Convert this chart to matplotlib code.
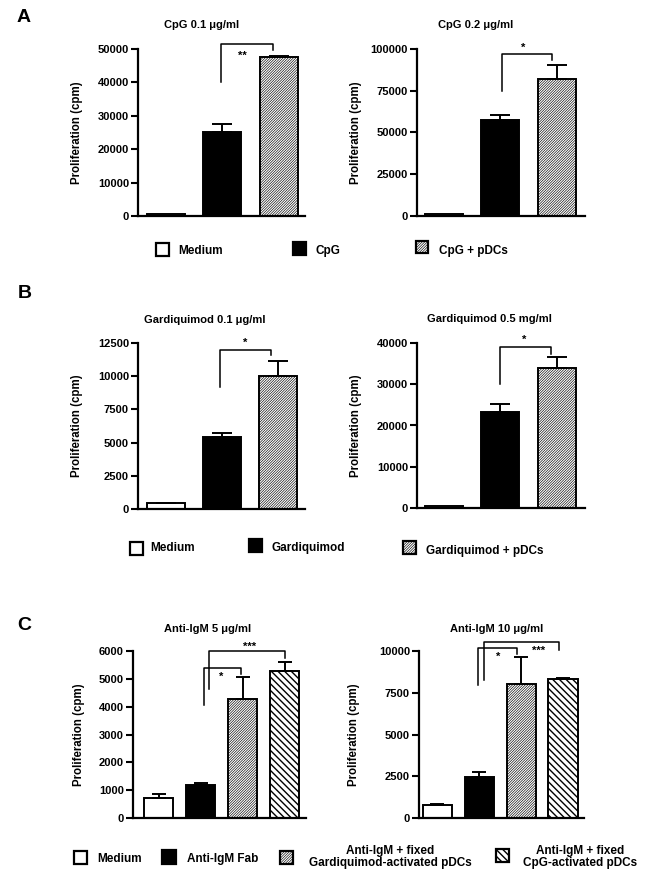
#!/usr/bin/env python3
"""Proliferation bar panels (A: CpG, B: Gardiquimod, C: anti-IgM)."""
import numpy as np
import matplotlib
matplotlib.use("Agg")
import matplotlib.pyplot as plt
from matplotlib.patches import Rectangle

plt.rcParams["font.family"] = ["Liberation Sans", "DejaVu Sans"]
plt.rcParams["font.weight"] = "bold"
plt.rcParams["axes.labelweight"] = "bold"

W, H = 648, 880

# --- data (cpm, mean and SEM) ---
cpg01_mean = [700, 25000, 47700]
cpg01_err = [0, 2400, 300]
cpg02_mean = [1000, 57500, 82000]
cpg02_err = [0, 3000, 8500]
gq01_mean = [420, 5400, 10050]
gq01_err = [60, 330, 1100]
gq05_mean = [600, 23200, 34000]
gq05_err = [0, 2100, 2500]
igm5_mean = [730, 1170, 4270, 5280]
igm5_err = [130, 80, 800, 320]
igm10_mean = [760, 2450, 8000, 8320]
igm10_err = [60, 330, 1650, 80]

legend_a = ["Medium", "CpG", "CpG + pDCs"]
legend_b = ["Medium", "Gardiquimod", "Gardiquimod + pDCs"]
legend_c = ["Medium", "Anti-IgM Fab", "Anti-IgM + fixed\nGardiquimod-activated pDCs",
            "Anti-IgM + fixed\nCpG-activated pDCs"]

# fill styles: (facecolor, hatch, hatch linewidth)
WHITE = ("white", None, 0)
BLACK = ("black", None, 0)
DENSE = ("white", "/" * 13, 0.45)
COARSE = ("white", "\\" * 5, 1.0)

fig = plt.figure(figsize=(W / 100, H / 100), dpi=100)


def px_axes(x0, x1, ytop, ybot):
    return fig.add_axes([x0 / W, 1 - ybot / H, (x1 - x0) / W, (ybot - ytop) / H])


def panel(ax, means, errs, styles, ymax, step, xlim, width, cap, ylab_x):
    x = np.arange(len(means))
    for xi, m, (fc, hatch, hlw) in zip(x, means, styles):
        if hatch:
            plt.rcParams["hatch.linewidth"] = hlw
        b = ax.bar(xi, m, width=width, color=fc, edgecolor="black", linewidth=1.4,
                   hatch=hatch, zorder=2)
        if hatch and hasattr(b[0], "set_hatch_linewidth"):
            b[0].set_hatch_linewidth(hlw)
    errs = np.asarray(errs, dtype=float)
    keep = errs > 0
    ax.errorbar(x[keep], np.asarray(means)[keep], yerr=[np.zeros(keep.sum()), errs[keep]],
                fmt="none", ecolor="black", elinewidth=1.4, capsize=cap, capthick=1.4, zorder=3)
    ax.set_xlim(*xlim)
    ax.set_ylim(0, ymax)
    ax.set_yticks(np.arange(0, ymax + 1, step))
    ax.set_xticks([])
    for s in ("top", "right"):
        ax.spines[s].set_visible(False)
    for s in ("left", "bottom"):
        ax.spines[s].set_linewidth(1.6)
    ax.tick_params(axis="y", length=5, width=1.5, labelsize=8, pad=1.5)
    for t in ax.get_yticklabels():
        t.set_fontweight("bold")
    ax.set_ylabel("Proliferation (cpm)", fontsize=8.3, fontweight="bold")
    ax.yaxis.set_label_coords(ylab_x, 0.5)


def bracket(ax, x1, x2, y1, ytop, y2, label, lx, ly):
    ax.plot([x1, x1, x2, x2], [y1, ytop, ytop, y2], color="black", lw=1.1,
            clip_on=False, zorder=4)
    ax.text(lx, ly, label, ha="center", va="center", fontsize=8, fontweight="bold")


def ftext(x, y, s, **kw):
    kw.setdefault("fontweight", "bold")
    fig.text(x / W, 1 - y / H, s, **kw)


def legend_box(x0, y0, size, style):
    fc, hatch, hlw = style
    if hatch:
        plt.rcParams["hatch.linewidth"] = hlw
    r = Rectangle((x0 / W, 1 - (y0 + size) / H), size / W, size / H,
                  transform=fig.transFigure, facecolor=fc, edgecolor="black",
                  linewidth=1.6, hatch=hatch)
    if hatch and hasattr(r, "set_hatch_linewidth"):
        r.set_hatch_linewidth(hlw)
    fig.add_artist(r)


# ---------------- A ----------------
ax = px_axes(138, 305, 49, 216)
panel(ax, cpg01_mean, cpg01_err, [WHITE, BLACK, DENSE], 50000, 10000,
      (-0.5, 2.47), 0.675, 7, -0.33)
bracket(ax, 0.97, 1.9, 40000, 51400, 49600, "**", 1.35, 48000)

ax = px_axes(417, 585, 49, 216)
panel(ax, cpg02_mean, cpg02_err, [WHITE, BLACK, DENSE], 100000, 25000,
      (-0.48, 2.5), 0.675, 7, -0.33)
bracket(ax, 1.03, 1.91, 74900, 97200, 93600, "*", 1.41, 100500)

ftext(17, 17, "A", fontsize=14, va="center")
ftext(202, 25, "CpG 0.1 \u03bcg/ml", fontsize=8, ha="center", va="center")
ftext(476, 25, "CpG 0.2 \u03bcg/ml", fontsize=8, ha="center", va="center")

legend_box(156, 243, 13, WHITE)
ftext(178, 251, legend_a[0], fontsize=8.5, va="center")
legend_box(293, 242, 13, BLACK)
ftext(316, 251, legend_a[1], fontsize=8.5, va="center")
legend_box(416, 241, 12, DENSE)
ftext(439, 251, legend_a[2], fontsize=8.5, va="center")

# ---------------- B ----------------
ax = px_axes(138, 305, 343, 509)
panel(ax, gq01_mean, gq01_err, [WHITE, BLACK, DENSE], 12500, 2500,
      (-0.49, 2.48), 0.675, 7, -0.33)
bracket(ax, 0.97, 1.87, 9200, 12000, 11575, "*", 1.42, 12500)

ax = px_axes(417, 585, 343, 508)
panel(ax, gq05_mean, gq05_err, [WHITE, BLACK, DENSE], 40000, 10000,
      (-0.48, 2.5), 0.675, 7, -0.33)
bracket(ax, 1.0, 1.9, 30180, 39030, 37420, "*", 1.42, 40800)

ftext(18, 293, "B", fontsize=14, va="center")
ftext(205, 320, "Gardiquimod 0.1 \u03bcg/ml", fontsize=8, ha="center", va="center")
ftext(489, 319, "Gardiquimod 0.5 mg/ml", fontsize=8, ha="center", va="center")

legend_box(130, 542, 13, WHITE)
ftext(150, 548, legend_b[0], fontsize=8.5, va="center")
legend_box(249, 539, 13, BLACK)
ftext(272, 548, legend_b[1], fontsize=8.5, va="center")
legend_box(403, 541, 13, DENSE)
ftext(426, 551, legend_b[2], fontsize=8.5, va="center")

# ---------------- C ----------------
ax = px_axes(133, 306, 651, 818)
panel(ax, igm5_mean, igm5_err, [WHITE, BLACK, DENSE, COARSE], 6000, 1000,
      (-0.61, 3.51), 0.7, 5, -0.28)
bracket(ax, 1.07, 1.97, 4048, 5400, 5190, "*", 1.48, 5080)
bracket(ax, 1.19, 3.0, 4647, 5988, 5760, "***", 2.17, 6150)

ax = px_axes(419, 584, 651, 818)
panel(ax, igm10_mean, igm10_err, [WHITE, BLACK, DENSE, COARSE], 10000, 2500,
      (-0.44, 3.5), 0.7, 5, -0.36)
bracket(ax, 0.98, 1.89, 7944, 10180, 9840, "*", 1.46, 9680)
bracket(ax, 1.11, 2.9, 8244, 10540, 10080, "***", 2.42, 9980)

ftext(17, 626, "C", fontsize=14, va="center")
ftext(208, 629, "Anti-IgM 5 \u03bcg/ml", fontsize=8, ha="center", va="center")
ftext(497, 629, "Anti-IgM 10 \u03bcg/ml", fontsize=8, ha="center", va="center")

legend_box(74, 851, 13, WHITE)
ftext(97, 859, legend_c[0], fontsize=8.5, va="center")
legend_box(162, 850, 14, BLACK)
ftext(187, 859, legend_c[1], fontsize=8.5, va="center")
legend_box(280, 851, 13, DENSE)
ftext(390, 857, legend_c[2], fontsize=8.5, ha="center", va="center", linespacing=1.1)
legend_box(496, 849, 13, COARSE)
ftext(580, 857, legend_c[3], fontsize=8.5, ha="center", va="center", linespacing=1.1)

fig.savefig("out.png", dpi=100)
